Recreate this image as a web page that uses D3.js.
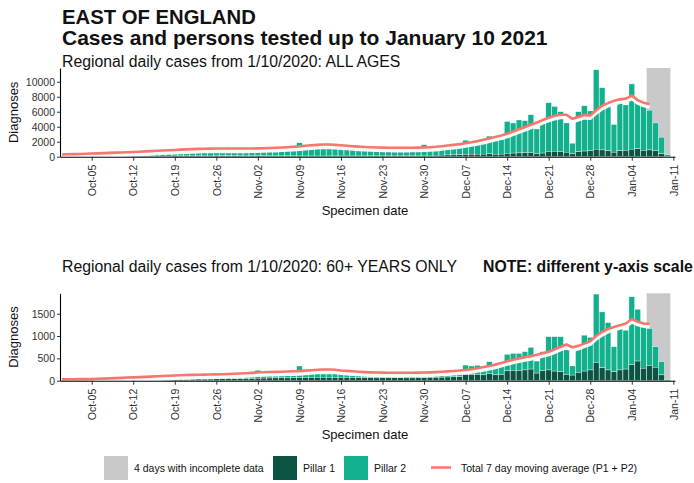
<!DOCTYPE html>
<html><head><meta charset="utf-8">
<script src="https://cdn.jsdelivr.net/npm/d3@7"></script>
<style>
body{margin:0;background:#fff;}
svg{display:block;font-family:"Liberation Sans",Arial,Helvetica,sans-serif;}
</style></head><body>
<svg id="c" width="694" height="483"></svg>
<script>
// ---------- DATA ----------
const firstBarDate = "2020-10-01";   // bars: Oct 1 2020 .. Jan 10 2021
const firstAvgDate = "2020-09-30";   // moving average: Sep 30 2020 .. Jan 7 2021
const incompleteFrom = "2021-01-07";
const incompleteTo = "2021-01-10";
const xTickLabels = ["Oct-05","Oct-12","Oct-19","Oct-26","Nov-02","Nov-09","Nov-16","Nov-23","Nov-30","Dec-07","Dec-14","Dec-21","Dec-28","Jan-04","Jan-11"];
const yTicksAll = [0,2000,4000,6000,8000,10000];
const yTicks60 = [0,500,1000,1500];

// ALL AGES: total daily cases (P1+P2) and Pillar 1 part
const allTotal = [
 250,280,260,230,330,360,400, 430,450,420,400,520,560,600, 640,680,650,620,780,820,850, 880,900,860,830,950,980,1000,960,940,900,
 900,1000,1030,1050,1080,1120,1080, 1120,1850,1320,1400,1450,1500,1450, 1380,1400,1350,1280,1230,1180,1120, 1080,1100,1100,1080,1080,1070,1060,1050,1600,
 1150,1200,1280,1350,1420,1500, 2200,2050,2000,2000,2750,2250,2300, 4700,4500,4900,4800,5600,3700,4400, 7200,6700,6000,4500,1800,6000,6800, 6100,11600,9200,6800,
 4300,7200,6900,9700,7400,6900,6200,4500,2600,250];
const allPillar1 = [
 40,40,30,30,50,50,50, 60,60,50,50,70,70,70, 80,80,70,70,90,100,100, 100,110,100,90,110,120,120,110,110,100,
 110,130,140,150,150,160,150, 160,180,180,190,200,200,190, 180,190,190,180,180,170,160, 160,170,170,170,170,160,160,170,180,
 190,200,210,230,240,250, 300,320,330,340,380,330,340, 450,480,500,520,560,420,480, 700,720,680,600,380,650,750, 800,1000,900,780,
 600,800,850,1000,1050,850,900,800,400,40];
const allAvg = [300,
 320,340,360,390,420,450,480,510,540,570, 600,630,670,710,750,790,830,860,900,940, 980,1010,1040,1060,1080,1090,1090,1090,1090,1090,1090,
 1100,1110,1130,1160,1190,1230,1270,1320,1380,1450, 1520,1580,1620,1620,1580,1520,1460,1400,1350,1300, 1260,1230,1210,1200,1190,1190,1190,1200,1210,1230,
 1270,1320,1400,1490,1580,1680,1800,1930,2080,2250, 2430,2620,2820,3050,3350,3650,3950,4250,4550,4900, 5200,5450,5600,5600,5050,5300,5550,5500,6200,6800,7150,
 7450,7650,7750,8150,7550,7200,7000];

// 60+ YEARS ONLY
const oldTotal = [
 25,25,22,22,30,32,36, 42,46,44,46,60,65,70, 78,82,80,84,100,105,110, 112,115,112,110,125,128,132,130,135,140,
 140,235,165,170,175,180,178, 182,330,205,215,225,228,222, 215,205,195,185,178,170,165, 160,160,158,158,158,156,156,160,165,
 168,172,178,185,192,200, 350,330,345,310,425,310,350, 590,610,610,650,745,440,650, 985,985,985,690,330,725,1020, 970,1940,1540,1300,
 760,1170,1130,1880,1600,1250,1170,760,425,30];
const oldPillar1 = [
 10,10,8,8,12,12,14, 15,16,14,14,18,20,22, 25,26,24,24,30,32,34, 36,38,36,36,40,42,44,44,46,44,
 48,55,58,60,62,64,62, 64,70,70,72,75,76,74, 72,74,72,70,68,66,64, 62,64,64,64,64,62,62,64,66,
 70,74,78,82,86,90, 140,135,140,130,160,130,140, 220,230,230,240,260,170,225, 240,215,200,140,125,185,215, 240,410,290,240,
 200,240,260,360,440,280,340,300,130,15];
const oldAvg = [30,
 32,34,35,36,38,42,46,52,58,64, 70,75,80,86,92,98,104,110,118,122, 126,130,134,137,139,141,145,150,155,160,167,
 175,185,190,195,198,202,206,210,215,225, 235,245,250,250,245,230,220,210,200,192, 186,182,180,178,177,177,178,178,180,182,
 186,192,200,208,218,228,240,258,280,305, 330,360,395,435,470,500,525,550,580,615, 650,700,760,810,750,780,830,880,1000,1090,1160,
 1200,1240,1280,1380,1320,1280,1270];

// ---------- STYLE ----------
const COL_P1 = "#0b5444", COL_P2 = "#12b08c", COL_LINE = "#f8766d", COL_GREY = "#c9c9c9";
const DAY = 864e5;
const svg = d3.select("#c");
const parse = d3.utcParse("%Y-%m-%d");
const barDates = allTotal.map((_, i) => d3.utcDay.offset(parse(firstBarDate), i));
const avgDates = allAvg.map((_, i) => d3.utcDay.offset(parse(firstAvgDate), i));
const tickDates = xTickLabels.map((_, i) => d3.utcDay.offset(parse("2020-10-05"), 7 * i));

const x = d3.scaleUtc()
  .domain([new Date(+parse("2020-10-05") - 5.34 * DAY), new Date(+parse("2020-10-05") + 98.28 * DAY)])
  .range([60, 675]);
const dayW = x(parse("2020-10-02")) - x(parse("2020-10-01"));

// titles
svg.append("text").attr("x", 62).attr("y", 24).attr("font-size", 20.3).attr("font-weight", "bold").attr("fill", "#111").text("EAST OF ENGLAND");
svg.append("text").attr("x", 62).attr("y", 45).attr("font-size", 21).attr("font-weight", "bold").attr("fill", "#111").text("Cases and persons tested up to January 10 2021");

function panel(opts) {
  const {total, p1, avg, yMax, yTicks, yBottom, yTop, subY, subtitle, note} = opts;
  const y = d3.scaleLinear().domain([0, yMax]).range([yBottom, yTop]);
  const g = svg.append("g");

  g.append("text").attr("x", 62).attr("y", subY).attr("font-size", 15.8).attr("fill", "#111").text(subtitle);
  if (note) g.append("text").attr("x", 483).attr("y", subY).attr("font-size", 15.8).attr("font-weight", "bold").attr("fill", "#111").text(note);

  // incomplete data rectangle
  g.append("rect")
    .attr("x", x(parse(incompleteFrom)) - dayW / 2)
    .attr("width", x(parse(incompleteTo)) - x(parse(incompleteFrom)) + dayW)
    .attr("y", yTop).attr("height", yBottom - yTop)
    .attr("fill", COL_GREY);

  const bw = dayW * 0.96;
  g.selectAll(".p2").data(total).join("rect")
    .attr("x", (d, i) => x(barDates[i]) - bw / 2).attr("width", bw)
    .attr("y", d => y(d)).attr("height", (d, i) => Math.max(0, y(p1[i]) - y(d)))
    .attr("fill", COL_P2).attr("stroke", "#fff").attr("stroke-width", 0.35);
  g.selectAll(".p1").data(p1).join("rect")
    .attr("x", (d, i) => x(barDates[i]) - bw / 2).attr("width", bw)
    .attr("y", d => y(d)).attr("height", d => yBottom - y(d))
    .attr("fill", COL_P1).attr("stroke", "#fff").attr("stroke-width", 0.35);

  const line = d3.line().x((d, i) => x(avgDates[i])).y(d => y(d));
  g.append("path").datum(avg).attr("d", line).attr("transform", "translate(0,2.6)")
    .attr("fill", "none").attr("stroke", "#fff").attr("stroke-width", 4).attr("stroke-opacity", 0.95);
  g.append("path").datum(avg).attr("d", line)
    .attr("fill", "none").attr("stroke", COL_LINE).attr("stroke-width", 2.6).attr("stroke-linejoin", "round");

  const ya = g.append("g").attr("transform", "translate(60,0)")
    .call(d3.axisLeft(y).tickValues(yTicks).tickFormat(d3.format("d")).tickSize(3).tickSizeOuter(0).tickPadding(2));
  ya.select(".domain").attr("stroke", "#000").attr("stroke-width", 1.1);
  ya.selectAll("text").attr("font-size", 10.5).attr("fill", "#333").attr("font-family", "Liberation Sans, Arial, sans-serif");
  ya.selectAll(".tick line").attr("stroke", "#333");

  const xa = g.append("g").attr("transform", `translate(0,${yBottom})`)
    .call(d3.axisBottom(x).tickValues(tickDates).tickFormat((d, i) => xTickLabels[i]).tickSize(4).tickSizeOuter(0));
  xa.select(".domain").attr("stroke", "#000").attr("stroke-width", 1.1);
  xa.selectAll(".tick line").attr("stroke", "#333");
  xa.selectAll("text").attr("font-size", 10.5).attr("fill", "#333").attr("font-family", "Liberation Sans, Arial, sans-serif")
    .attr("transform", "rotate(-90)").attr("text-anchor", "end")
    .attr("x", -8).attr("y", 0).attr("dy", "0.35em");

  g.append("text").attr("transform", `translate(18,${(yTop + yBottom) / 2}) rotate(-90)`)
    .attr("text-anchor", "middle").attr("font-size", 13).attr("fill", "#111").text("Diagnoses");
  g.append("text").attr("x", 365).attr("y", yBottom + 58.5).attr("text-anchor", "middle")
    .attr("font-size", 13).attr("fill", "#111").text("Specimen date");
}

panel({total: allTotal, p1: allPillar1, avg: allAvg, yMax: 11830, yTicks: yTicksAll,
  yBottom: 156.7, yTop: 68, subY: 67, subtitle: "Regional daily cases from 1/10/2020: ALL AGES"});
panel({total: oldTotal, p1: oldPillar1, avg: oldAvg, yMax: 1957, yTicks: yTicks60,
  yBottom: 380.7, yTop: 293.3, subY: 271.5, subtitle: "Regional daily cases from 1/10/2020: 60+ YEARS ONLY",
  note: "NOTE: different y-axis scale"});

// legend
const lg = svg.append("g").attr("font-size", 10.5).attr("fill", "#111");
const items = [
  {type: "rect", color: COL_GREY, label: "4 days with incomplete data", x: 104},
  {type: "rect", color: COL_P1, label: "Pillar 1", x: 273},
  {type: "rect", color: COL_P2, label: "Pillar 2", x: 344},
  {type: "line", color: COL_LINE, label: "Total 7 day moving average (P1 + P2)", x: 431}
];
items.forEach(it => {
  if (it.type === "rect") {
    lg.append("rect").attr("x", it.x).attr("y", 456).attr("width", 24).attr("height", 24).attr("fill", it.color);
    lg.append("text").attr("x", it.x + 30).attr("y", 471.5).text(it.label);
  } else {
    lg.append("line").attr("x1", it.x).attr("x2", it.x + 20).attr("y1", 467.5).attr("y2", 467.5)
      .attr("stroke", it.color).attr("stroke-width", 2.5);
    lg.append("text").attr("x", it.x + 30).attr("y", 471.5).text(it.label);
  }
});
</script>
</body></html>
